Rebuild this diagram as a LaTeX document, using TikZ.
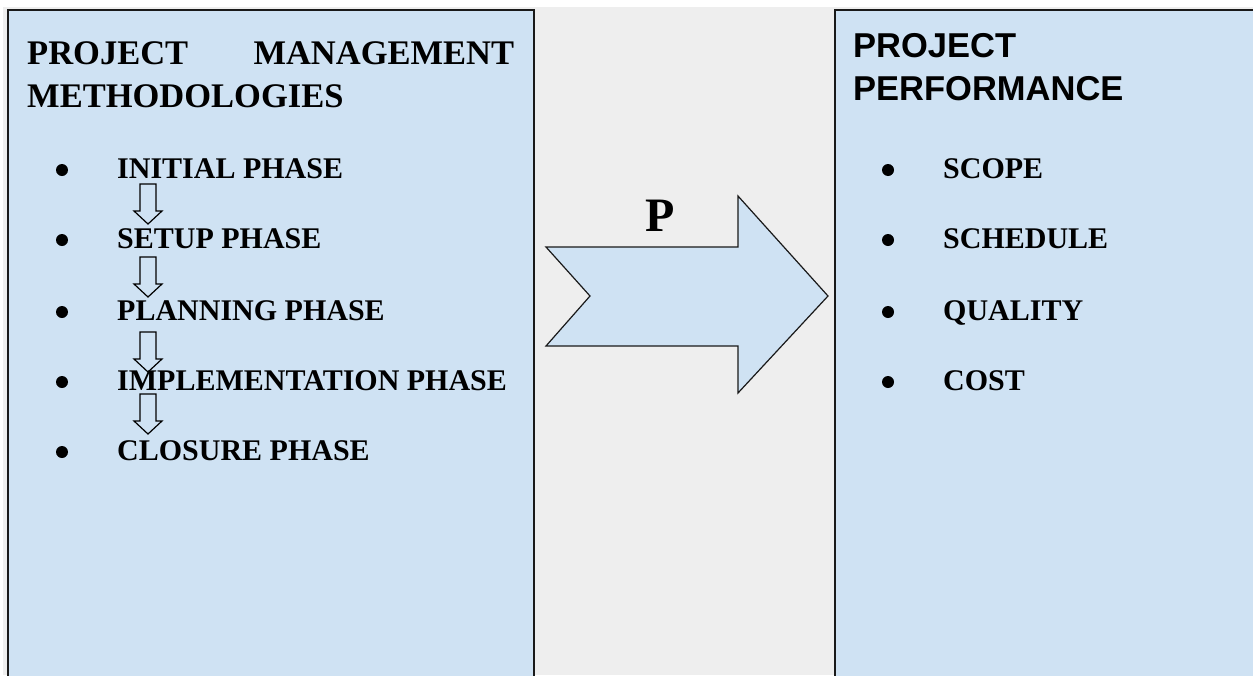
\documentclass[tikz,border=0pt]{standalone}
\usepackage{fontspec}
\setmainfont{Liberation Serif}
\newfontfamily\headsans{Liberation Sans}
\usetikzlibrary{positioning, calc}
\definecolor{panelblue}{HTML}{CFE2F3}
\definecolor{background}{HTML}{EEEEEE}

\begin{document}
\begin{tikzpicture}[
        x=1pt, y=-1pt,
        panel/.style={draw=black!90, line width=1.6pt, fill=panelblue},
        heading/.style={anchor=base west, inner sep=0pt, align=left},
        item/.style={anchor=base west, inner sep=0pt, font=\bfseries\fontsize{30}{34}\selectfont},
        dot/.style={circle, fill=black, inner sep=0pt, minimum size=12pt},
        flow/.style={draw=black, line width=1.2pt, line join=miter}
    ]
    \useasboundingbox (0,0) rectangle (1253,675);
    \fill[white] (0,0) rectangle (1253,675);
    \fill[background] (3,7) rectangle (1253,675);
    \clip (0,0) rectangle (1253,675);

    % --- Panels ---
    \draw[panel] (8,10) rectangle (534,700);
    \draw[panel] (835,10) rectangle (1290,700);

    % --- Left panel: methodologies ---
    \node (methods) [heading, text width=487pt, font=\bfseries\fontsize{34.5}{43}\selectfont] at (27,64)
        {PROJECT\hskip 0pt plus 1fill MANAGEMENT\\METHODOLOGIES};

    \node (initial) [item] at (117,178) {INITIAL PHASE};
    \node (setup) [item] at (117,248) {SETUP PHASE};
    \node (planning) [item] at (117,320) {PLANNING PHASE};
    \node (implementation) [item] at (117,390) {IMPLEMENTATION PHASE};
    \node (closure) [item] at (117,460) {CLOSURE PHASE};

    \foreach \phase in {initial, setup, planning, implementation, closure}
        \node[dot] at ([xshift=-55pt, yshift=8pt]\phase.base west) {};

    % --- Down arrows between phases ---
    \foreach \top in {184, 257, 332, 394}
        \draw[flow] (140,\top) -- (156,\top) -- (156,\top+27) -- (162,\top+27) -- (148,\top+40)
            -- (134,\top+27) -- (140,\top+27) -- cycle;

    % --- Big arrow ---
    \draw[panel, line width=1.2pt] (546,247) -- (738,247) -- (738,196) -- (828,296) -- (738,393)
        -- (738,346) -- (546,346) -- (590,296) -- cycle;
    \node (plabel) [anchor=base, inner sep=0pt, font=\bfseries\fontsize{48}{48}\selectfont] at (660,231) {P};

    % --- Right panel: performance ---
    \node (performance) [heading, font=\headsans\bfseries\fontsize{34.5}{43}\selectfont] at (853,100)
        {PROJECT\\PERFORMANCE};

    \node (scope) [item] at (943,178) {SCOPE};
    \node (schedule) [item] at (943,248) {SCHEDULE};
    \node (quality) [item] at (943,320) {QUALITY};
    \node (cost) [item] at (943,390) {COST};

    \foreach \measure in {scope, schedule, quality, cost}
        \node[dot] at ([xshift=-55pt, yshift=8pt]\measure.base west) {};

    \end{tikzpicture}
\end{document}
